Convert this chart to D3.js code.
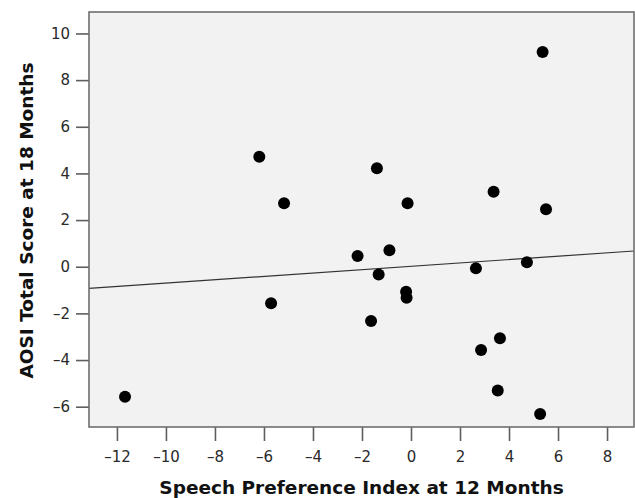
<!DOCTYPE html>
<html>
<head>
<meta charset="utf-8">
<script src="https://cdn.jsdelivr.net/npm/d3@7"></script>
<style>
  body { margin: 0; background: #fff; }
  svg { display: block; }
</style>
</head>
<body>
<svg id="svg1" width="635" height="498"></svg>
<script>
// speech preference index (x) and AOSI total score (y), one entry per infant
var speechIndex = [-11.67, -6.19, -5.18, -5.71, 5.37, -1.39, -0.14, 3.37, 5.51, -0.88, -2.18,
                   -1.32, 2.65, 4.73, -0.20, -0.18, -1.63, 3.63, 2.86, 3.54, 5.27];
var aosiScore   = [-5.57, 4.71, 2.72, -1.57, 9.21, 4.22, 2.72, 3.21, 2.46, 0.71, 0.46,
                   -0.33, -0.07, 0.19, -1.07, -1.33, -2.33, -3.07, -3.57, -5.31, -6.31];

// fit line: y = intercept + slope * x
var fitIntercept = 0.02;
var fitSlope = 0.072;

var xTicks = [-12, -10, -8, -6, -4, -2, 0, 2, 4, 6, 8];
var yTicks = [-6, -4, -2, 0, 2, 4, 6, 8, 10];

var xTitle = 'Speech Preference Index at 12 Months';
var yTitle = 'AOSI Total Score at 18 Months';

var plotLeft = 89, plotRight = 634, plotTop = 12, plotBottom = 427;

var scaleX = d3.scaleLinear().domain([-13.14, 9.1]).range([plotLeft, plotRight]);
var scaleY = d3.scaleLinear().domain([-6.87, 10.92]).range([plotBottom, plotTop]);

var fmt = function(d){ return d < 0 ? '\u2013' + Math.abs(d) : String(d); };

var svg = d3.select('#svg1');

// plot background
svg.append('rect')
    .attr('x', plotLeft)
    .attr('y', plotTop)
    .attr('width', plotRight - plotLeft)
    .attr('height', plotBottom - plotTop)
    .attr('fill', '#f2f2f2');

// axes
var xAxis = svg.append('g')
    .attr('transform', 'translate(0,' + plotBottom + ')')
    .call(d3.axisBottom(scaleX).tickValues(xTicks).tickFormat(fmt).tickSize(14).tickSizeOuter(0).tickPadding(10));

var yAxis = svg.append('g')
    .attr('transform', 'translate(' + plotLeft + ',0)')
    .call(d3.axisLeft(scaleY).tickValues(yTicks).tickFormat(fmt).tickSize(13).tickSizeOuter(0).tickPadding(6));

[xAxis, yAxis].forEach(function(ax){
    ax.select('.domain').remove();
    ax.selectAll('line').attr('stroke', '#5e5e5e').attr('stroke-width', 1.6);
    ax.selectAll('text')
        .attr('fill', '#2a2a2a')
        .style('font-family', 'DejaVu Sans, sans-serif')
        .style('font-size', '15px');
});

// fit line
var makeLine = d3.line()
    .x(function(d){ return scaleX(d); })
    .y(function(d){ return scaleY(fitIntercept + fitSlope * d); });

svg.append('path')
    .datum(scaleX.domain())
    .attr('d', makeLine)
    .attr('fill', 'none')
    .attr('stroke', '#333')
    .attr('stroke-width', 1.2);

// points
svg.append('g')
    .selectAll('circle')
    .data(speechIndex)
    .enter()
    .append('circle')
    .attr('cx', function(d){ return scaleX(d); })
    .attr('cy', function(d, i){ return scaleY(aosiScore[i]); })
    .attr('r', 6)
    .attr('fill', '#000');

// frame
svg.append('rect')
    .attr('x', plotLeft)
    .attr('y', plotTop)
    .attr('width', plotRight - plotLeft)
    .attr('height', plotBottom - plotTop)
    .attr('fill', 'none')
    .attr('stroke', '#6e6e6e')
    .attr('stroke-width', 1.6);

// axis titles
svg.append('text')
    .text(xTitle)
    .attr('x', (plotLeft + plotRight) / 2)
    .attr('y', 494)
    .attr('text-anchor', 'middle')
    .style('font-family', 'DejaVu Sans, sans-serif')
    .style('font-weight', 'bold')
    .style('font-size', '18.5px')
    .attr('fill', '#111');

svg.append('text')
    .text(yTitle)
    .attr('transform', 'translate(33,' + ((plotTop + plotBottom) / 2 + 1) + ')rotate(-90)')
    .attr('text-anchor', 'middle')
    .style('font-family', 'DejaVu Sans, sans-serif')
    .style('font-weight', 'bold')
    .style('font-size', '18.5px')
    .attr('fill', '#111');
</script>
</body>
</html>
